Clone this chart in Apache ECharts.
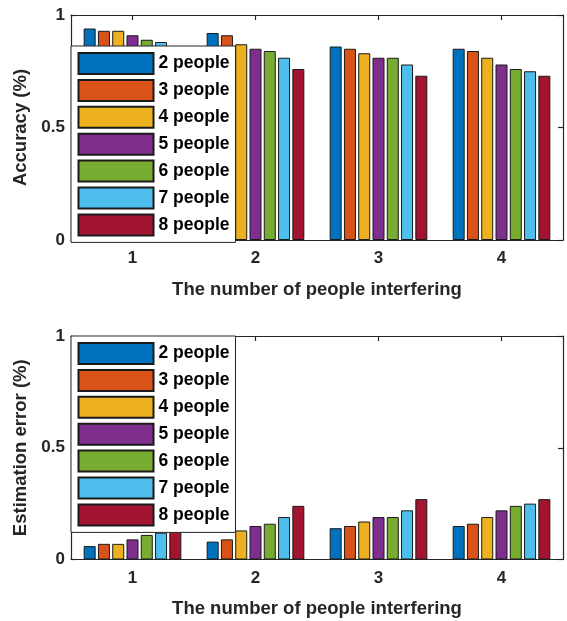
<!DOCTYPE html>
<html>
<head>
<meta charset="utf-8">
<script src="https://cdn.jsdelivr.net/npm/echarts@6/dist/echarts.min.js"></script>
<style>
html,body{margin:0;padding:0;background:#fff;}
#c{width:567px;height:621px;}
</style>
</head>
<body>
<div id="c"></div>
<script>
const categories = ['1', '2', '3', '4'];
const seriesNames = ['2 people', '3 people', '4 people', '5 people', '6 people', '7 people', '8 people'];
const colors = ['#0072BD', '#D95319', '#EDB120', '#7E2F8E', '#77AC30', '#4DBEEE', '#A2142F'];
const yTicks = [0, 0.5, 1];

// Accuracy, one array per number of people (values for interfering = 1..4)
const acc2 = [0.94, 0.92, 0.86, 0.85];
const acc3 = [0.93, 0.91, 0.85, 0.84];
const acc4 = [0.93, 0.87, 0.83, 0.81];
const acc5 = [0.91, 0.85, 0.81, 0.78];
const acc6 = [0.89, 0.84, 0.81, 0.76];
const acc7 = [0.88, 0.81, 0.78, 0.75];
const acc8 = [0.86, 0.76, 0.73, 0.73];

// Estimation error
const err2 = [0.06, 0.08, 0.14, 0.15];
const err3 = [0.07, 0.09, 0.15, 0.16];
const err4 = [0.07, 0.13, 0.17, 0.19];
const err5 = [0.09, 0.15, 0.19, 0.22];
const err6 = [0.11, 0.16, 0.19, 0.24];
const err7 = [0.12, 0.19, 0.22, 0.25];
const err8 = [0.14, 0.24, 0.27, 0.27];

const accData = [acc2, acc3, acc4, acc5, acc6, acc7, acc8];
const errData = [err2, err3, err4, err5, err6, err7, err8];

const FONT = 'Liberation Sans, Arial, sans-serif';
const TXT = '#262626';
const LINE = '#262626';

function xAxes(gridIndex) {
  return [
    {
      type: 'category', gridIndex, data: categories, position: 'bottom',
      boundaryGap: true,
      axisLine: { show: true, onZero: false, lineStyle: { color: LINE, width: 1.2 } },
      axisTick: { show: true, inside: true, alignWithLabel: true, length: 5, lineStyle: { color: LINE, width: 1.2 } },
      axisLabel: { color: TXT, fontFamily: FONT, fontWeight: 'bold', fontSize: 17, margin: 10 },
      name: 'The number of people interfering', nameLocation: 'middle', nameGap: 40,
      nameTextStyle: { color: TXT, fontFamily: FONT, fontWeight: 'bold', fontSize: 18.5 },
      splitLine: { show: false }
    },
    {
      type: 'category', gridIndex, data: categories, position: 'top',
      boundaryGap: true,
      axisLine: { show: true, onZero: false, lineStyle: { color: LINE, width: 1.2 } },
      axisTick: { show: true, inside: true, alignWithLabel: true, length: 5, lineStyle: { color: LINE, width: 1.2 } },
      axisLabel: { show: false },
      splitLine: { show: false }
    }
  ];
}

function yAxes(gridIndex, title) {
  return [
    {
      type: 'value', gridIndex, min: yTicks[0], max: yTicks[yTicks.length - 1], interval: yTicks[1] - yTicks[0],
      position: 'left',
      axisLine: { show: true, onZero: false, lineStyle: { color: LINE, width: 1.2 } },
      axisTick: { show: true, inside: true, length: 5, lineStyle: { color: LINE, width: 1.2 } },
      axisLabel: { color: TXT, fontFamily: FONT, fontWeight: 'bold', fontSize: 17, margin: 6 },
      splitLine: { show: false },
      name: title, nameLocation: 'middle', nameGap: 38,
      nameTextStyle: { color: TXT, fontFamily: FONT, fontWeight: 'bold', fontSize: 18.5 }
    },
    {
      type: 'value', gridIndex, min: yTicks[0], max: yTicks[yTicks.length - 1], interval: yTicks[1] - yTicks[0],
      position: 'right',
      axisLine: { show: true, onZero: false, lineStyle: { color: LINE, width: 1.2 } },
      axisTick: { show: true, inside: true, length: 5, lineStyle: { color: LINE, width: 1.2 } },
      axisLabel: { show: false },
      splitLine: { show: false }
    }
  ];
}

function legend(top) {
  return {
    orient: 'vertical', left: 71, top: top,
    data: seriesNames.map(n => ({ name: n, icon: 'rect' })),
    itemWidth: 75, itemHeight: 21, itemGap: 3.9,
    padding: [6, 6, 6, 6.5],
    backgroundColor: '#fff',
    borderColor: LINE, borderWidth: 1,
    textStyle: { color: '#000', fontFamily: FONT, fontWeight: 'bold', fontSize: 17.5, lineHeight: 21 },
    selectedMode: false,
    z: 10
  };
}

const series = [];
seriesNames.forEach((name, i) => {
  series.push({
    name, type: 'bar', xAxisIndex: 0, yAxisIndex: 0, data: accData[i],
    barWidth: 12, barGap: '19%',
    itemStyle: { color: colors[i], borderColor: '#1a1a1a', borderWidth: 1 },
    emphasis: { disabled: true }, animation: false
  });
});
seriesNames.forEach((name, i) => {
  series.push({
    name, type: 'bar', xAxisIndex: 2, yAxisIndex: 2, data: errData[i],
    barWidth: 12, barGap: '19%',
    itemStyle: { color: colors[i], borderColor: '#1a1a1a', borderWidth: 1 },
    emphasis: { disabled: true }, animation: false
  });
});

const chart = echarts.init(document.getElementById('c'), null, { renderer: 'canvas' });
chart.setOption({
  animation: false,
  backgroundColor: '#fff',
  grid: [
    { left: 71, right: 4, top: 15, height: 225 },
    { left: 71, right: 4, top: 336, height: 223.5 }
  ],
  xAxis: [...xAxes(0), ...xAxes(1)],
  yAxis: [...yAxes(0, 'Accuracy (%)'), ...yAxes(1, 'Estimation error (%)')],
  legend: [legend(46), legend(336)],
  series
});
</script>
</body>
</html>
